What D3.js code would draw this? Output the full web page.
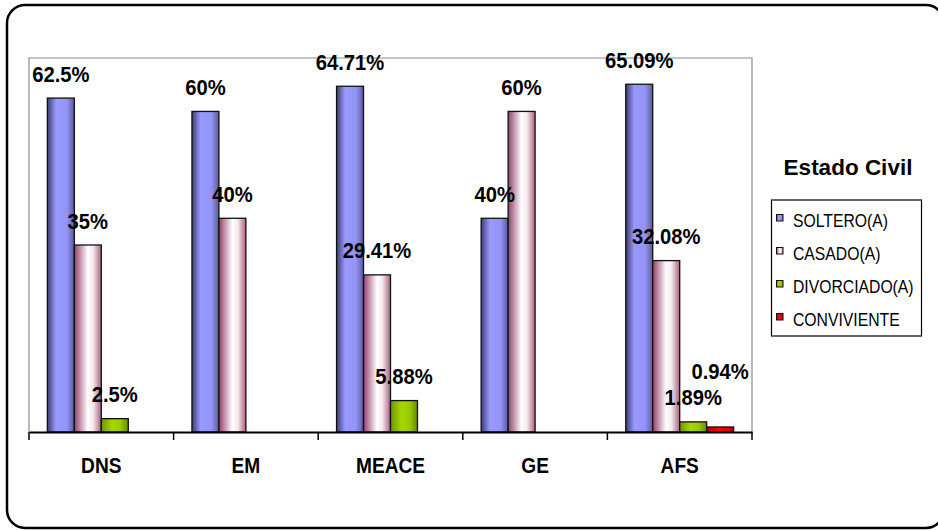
<!DOCTYPE html>
<html>
<head>
<meta charset="utf-8">
<script src="https://cdn.jsdelivr.net/npm/d3@7"></script>
<style>
  html, body { margin: 0; padding: 0; background: #fff; }
  svg { display: block; }
  text { font-family: "Liberation Sans", Arial, sans-serif; fill: #000; }
</style>
</head>
<body>
<svg id="chart" width="938" height="530"></svg>
<script>
// Estado civil por grupo (porcentajes)
const categories = ["DNS", "EM", "MEACE", "GE", "AFS"];
const seriesNames = ["SOLTERO(A)", "CASADO(A)", "DIVORCIADO(A)", "CONVIVIENTE"];
const soltero     = [62.5, 60, 64.71, 40, 65.09];
const casado      = [35, 40, 29.41, 60, 32.08];
const divorciado  = [2.5, 0, 5.88, 0, 1.89];
const conviviente = [0, 0, 0, 0, 0.94];
const seriesValues = [soltero, casado, divorciado, conviviente];
const legendTitle = "Estado Civil";

const svg = d3.select("#chart");

// gradient shading for each series (dark edges, light middle)
const gradStops = [
  [["0", "#3c3c70"], ["0.32", "#9999ff"], ["0.72", "#9494f6"], ["1", "#5a5a9e"]],
  [["0", "#93406c"], ["0.5", "#ffffff"], ["0.7", "#f4e8ee"], ["1", "#a8617f"]],
  [["0", "#6f9400"], ["0.4", "#a6d600"], ["0.7", "#99cc00"], ["1", "#6a8c00"]],
  [["0", "#a00000"], ["0.4", "#ff0000"], ["0.7", "#f40000"], ["1", "#a00000"]]
];
const defs = svg.append("defs");
gradStops.forEach((stops, i) => {
  const g = defs.append("linearGradient").attr("id", "g" + i)
    .attr("x1", "0%").attr("x2", "100%").attr("y1", "0%").attr("y2", "0%");
  stops.forEach(s => g.append("stop").attr("offset", s[0]).attr("stop-color", s[1]));
});

// outer frame
svg.append("rect")
  .attr("x", 7).attr("y", 5).attr("width", 937).attr("height", 523)
  .attr("rx", 18).attr("ry", 18)
  .attr("fill", "#fff").attr("stroke", "#000").attr("stroke-width", 2.5);

const plot = { left: 29, right: 752, top: 58, bottom: 432 };

const x0 = d3.scaleBand().domain(categories)
  .range([plot.left, plot.right]).paddingInner(0).paddingOuter(0);
const x1 = d3.scaleBand().domain(d3.range(seriesNames.length))
  .range([0, x0.bandwidth()]).paddingInner(0).paddingOuter(0.68);
const y = d3.scaleLinear().domain([0, 70]).range([plot.bottom, plot.top]);

// plot area border
svg.append("path")
  .attr("d", `M${plot.left},${plot.bottom}V${plot.top}H${plot.right}V${plot.bottom}`)
  .attr("fill", "none").attr("stroke", "#8c8c8c").attr("stroke-width", 1.2);

// text helper: horizontally condensed text
function label(sel, txt, x, yy, size, sx, anchor) {
  return sel.append("text")
    .attr("transform", `translate(${x},${yy}) scale(${sx},1)`)
    .attr("text-anchor", anchor || "middle")
    .attr("font-size", size)
    .attr("font-weight", "bold")
    .text(txt);
}

// bars
const groups = svg.append("g").selectAll("g")
  .data(categories).join("g")
  .attr("transform", d => `translate(${x0(d)},0)`);

groups.each(function (cat, ci) {
  const g = d3.select(this);
  seriesValues.forEach((vals, si) => {
    const v = vals[ci];
    if (v <= 0) return;
    g.append("rect")
      .attr("x", x1(si)).attr("y", y(v))
      .attr("width", x1.bandwidth()).attr("height", y(0) - y(v))
      .attr("fill", `url(#g${si})`)
      .attr("stroke", "#111").attr("stroke-width", 1.3);
  });
});

// x axis
const xAxis = d3.axisBottom(x0).tickSize(0).tickFormat("");
const axisG = svg.append("g").attr("transform", `translate(0,${plot.bottom})`).call(xAxis);
axisG.select(".domain").attr("stroke", "#000").attr("stroke-width", 2);
const bounds = [plot.left].concat(categories.map(c => x0(c) + x0.bandwidth()));
axisG.selectAll(".bound").data(bounds).join("line")
  .attr("class", "bound")
  .attr("x1", d => d).attr("x2", d => d).attr("y1", 0).attr("y2", 8)
  .attr("stroke", "#000").attr("stroke-width", 1.5);

// category labels
categories.forEach(c => {
  label(svg, c, x0(c) + x0.bandwidth() / 2, 473, 22, 0.87);
});

// value labels, shifted upward when they collide with a neighbour
const labelSize = 22, labelSx = 0.92, capH = labelSize * 0.716, labelGap = 16.5;
categories.forEach((c, ci) => {
  const placed = [];
  seriesValues.forEach((vals, si) => {
    const v = vals[ci];
    if (v <= 0) return;
    const cx = x0(c) + x1(si) + x1.bandwidth() / 2;
    let base = y(v) - labelGap;
    const t = label(svg, v + "%", cx, base, labelSize, labelSx);
    const w = t.node().getComputedTextLength() * labelSx;
    let box = { x0: cx - w / 2, x1: cx + w / 2, top: base - capH, bottom: base };
    placed.forEach(p => {
      const xo = box.x0 < p.x1 && box.x1 > p.x0;
      const yo = box.top < p.bottom && box.bottom > p.top;
      if (xo && yo) {
        base = p.top - 11;
        box = { x0: box.x0, x1: box.x1, top: base - capH, bottom: base };
      }
    });
    t.attr("transform", `translate(${cx},${base}) scale(${labelSx},1)`);
    placed.push(box);
  });
});

// legend
label(svg, legendTitle, 848, 174.5, 22.5, 1);
svg.append("rect")
  .attr("x", 771.5).attr("y", 200).attr("width", 150).attr("height", 136)
  .attr("fill", "#fff").attr("stroke", "#000").attr("stroke-width", 1.2);
seriesNames.forEach((name, i) => {
  const base = 226.5 + i * 33;
  svg.append("rect")
    .attr("x", 776.5).attr("y", base - 12).attr("width", 6.5).attr("height", 6.5)
    .attr("fill", `url(#g${i})`).attr("stroke", "#111").attr("stroke-width", 1);
  svg.append("text")
    .attr("transform", `translate(793,${base}) scale(0.9,1)`)
    .attr("font-size", 17.5)
    .text(name);
});
</script>
</body>
</html>
